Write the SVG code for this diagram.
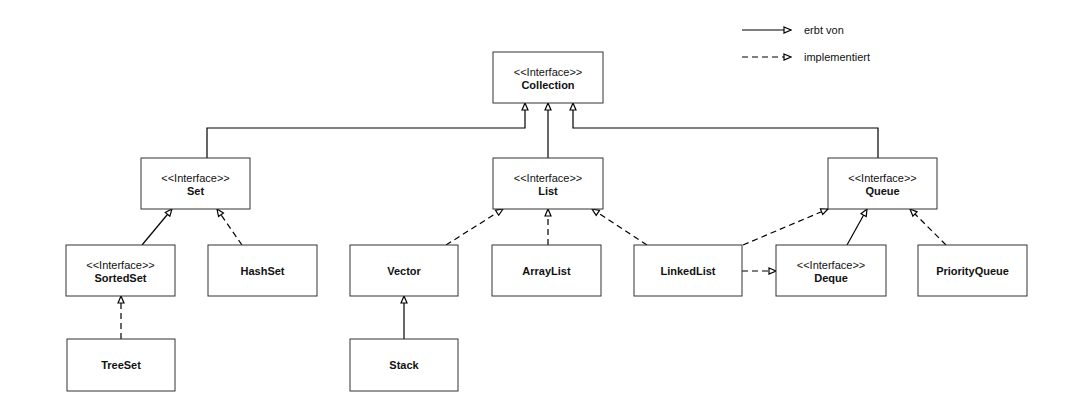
<svg xmlns="http://www.w3.org/2000/svg" width="1084" height="403" viewBox="0 0 1084 403">
<style>
.box{fill:#fff;stroke:#333;stroke-width:1}
.st{font-family:"Liberation Sans",Arial,sans-serif;font-size:11px;fill:#111;text-anchor:middle}
.nm{font-family:"Liberation Sans",Arial,sans-serif;font-size:11px;font-weight:bold;fill:#111;text-anchor:middle}
.lg{font-family:"Liberation Sans",Arial,sans-serif;font-size:11px;fill:#111}
.inh{fill:none;stroke:#000;stroke-width:1.2;marker-end:url(#tri)}
.imp{fill:none;stroke:#000;stroke-width:1.2;stroke-dasharray:6 4;marker-end:url(#tri)}
</style>
<defs>
<marker id="tri" markerUnits="userSpaceOnUse" markerWidth="10" markerHeight="10" viewBox="0 0 10 10" refX="9" refY="5" orient="auto">
<path d="M2,2 L9,5 L2,8 z" fill="#fff" stroke="#000" stroke-width="1.2"/>
</marker>
</defs>
<rect width="1084" height="403" fill="#fff"/>

<g id="legend">
<line x1="742" y1="30" x2="791" y2="30" class="inh"/>
<text x="804" y="34" class="lg">erbt von</text>
<line x1="742" y1="57" x2="791" y2="57" class="imp"/>
<text x="804" y="61" class="lg">implementiert</text>
</g>

<g id="connectors">
<polyline points="207,158 207,128 525,128 525,103" class="inh"/>
<line x1="548" y1="158" x2="548" y2="103" class="inh"/>
<polyline points="878,158 878,128 573,128 573,103" class="inh"/>
<line x1="142" y1="245" x2="172" y2="209" class="inh"/>
<line x1="242" y1="245" x2="217" y2="209" class="imp"/>
<line x1="446" y1="245" x2="503" y2="209" class="imp"/>
<line x1="548" y1="245" x2="548" y2="209" class="imp"/>
<line x1="647" y1="245" x2="592" y2="209" class="imp"/>
<line x1="743" y1="245" x2="828" y2="209" class="imp"/>
<line x1="847" y1="245" x2="867" y2="209" class="inh"/>
<line x1="946" y1="245" x2="910" y2="209" class="imp"/>
<line x1="742" y1="271" x2="776" y2="271" class="imp"/>
<line x1="121" y1="339" x2="121" y2="296" class="imp"/>
<line x1="404" y1="339" x2="404" y2="296" class="inh"/>
</g>

<g id="Collection">
<rect x="493" y="52" width="110" height="51" class="box"/>
<text x="548" y="76" class="st">&lt;&lt;Interface&gt;&gt;</text>
<text x="548" y="89" class="nm">Collection</text>
</g>
<g id="Set">
<rect x="141" y="158" width="109" height="51" class="box"/>
<text x="195.5" y="182" class="st">&lt;&lt;Interface&gt;&gt;</text>
<text x="195.5" y="195" class="nm">Set</text>
</g>
<g id="List">
<rect x="493" y="158" width="110" height="51" class="box"/>
<text x="548" y="182" class="st">&lt;&lt;Interface&gt;&gt;</text>
<text x="548" y="195" class="nm">List</text>
</g>
<g id="Queue">
<rect x="828" y="158" width="109" height="51" class="box"/>
<text x="882.5" y="182" class="st">&lt;&lt;Interface&gt;&gt;</text>
<text x="882.5" y="195" class="nm">Queue</text>
</g>
<g id="SortedSet">
<rect x="66" y="245" width="109" height="51" class="box"/>
<text x="120.5" y="269" class="st">&lt;&lt;Interface&gt;&gt;</text>
<text x="120.5" y="282" class="nm">SortedSet</text>
</g>
<g id="HashSet">
<rect x="208" y="245" width="109" height="51" class="box"/>
<text x="262.5" y="275" class="nm">HashSet</text>
</g>
<g id="Vector">
<rect x="350" y="245" width="108" height="51" class="box"/>
<text x="404" y="275" class="nm">Vector</text>
</g>
<g id="ArrayList">
<rect x="492" y="245" width="109" height="51" class="box"/>
<text x="546.5" y="275" class="nm">ArrayList</text>
</g>
<g id="LinkedList">
<rect x="634" y="245" width="108" height="51" class="box"/>
<text x="688" y="275" class="nm">LinkedList</text>
</g>
<g id="Deque">
<rect x="776" y="245" width="110" height="51" class="box"/>
<text x="831" y="269" class="st">&lt;&lt;Interface&gt;&gt;</text>
<text x="831" y="282" class="nm">Deque</text>
</g>
<g id="PriorityQueue">
<rect x="918" y="245" width="109" height="51" class="box"/>
<text x="972.5" y="275" class="nm">PriorityQueue</text>
</g>
<g id="TreeSet">
<rect x="67" y="339" width="108" height="52" class="box"/>
<text x="121" y="369" class="nm">TreeSet</text>
</g>
<g id="Stack">
<rect x="350" y="339" width="108" height="52" class="box"/>
<text x="404" y="369" class="nm">Stack</text>
</g>
</svg>
